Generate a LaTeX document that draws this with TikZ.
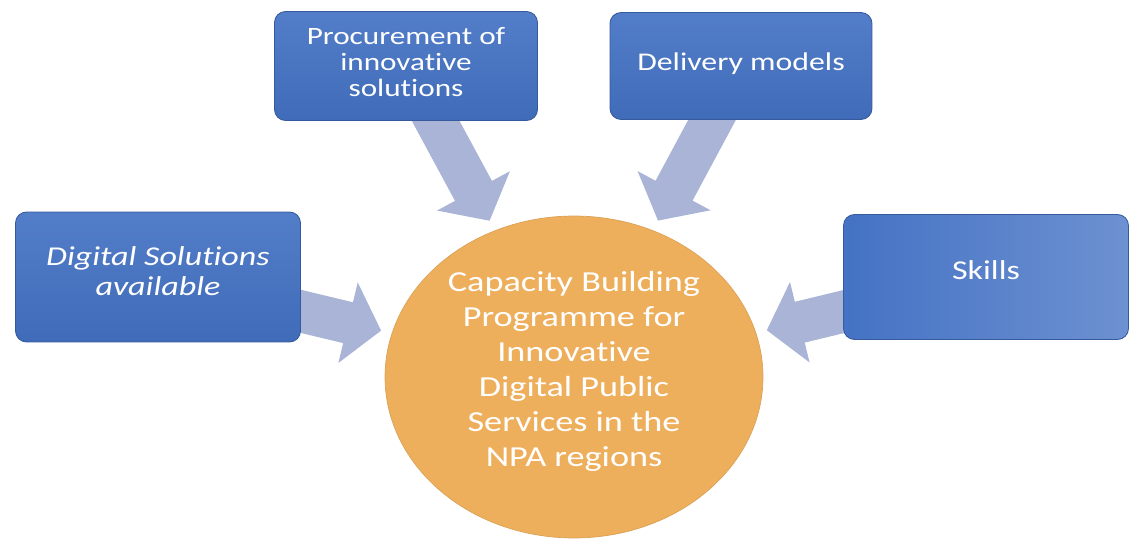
\documentclass[tikz,border=0pt]{standalone}
\usepackage{fontspec}
\setmainfont{Carlito}[Ligatures=NoCommon, FakeStretch=1.25]
\usetikzlibrary{shapes.geometric,arrows.meta,backgrounds}

\definecolor{boxblue}{HTML}{4472C4}
\definecolor{arrowgrey}{HTML}{AAB4D6}
\definecolor{caporange}{HTML}{EEAF5D}

\tikzset{
    bluebox/.style={draw=boxblue!80!black, line width=0.5pt, rounded corners=0.22cm,
        top color=boxblue!92!white, bottom color=boxblue!94!black,
        text=white, align=center},
    flow/.style={draw=arrowgrey, line width=0.84cm, shorten >=0.22cm,
        -{Triangle[length=0.68cm, width=1.62cm]}}
}

\begin{document}
\begin{tikzpicture}[x=0.02cm, y=-0.02cm]
    \useasboundingbox (0,0) rectangle (1131,544);

    %% ** the four topics
    \node[bluebox, minimum width=5.7cm, minimum height=2.6cm, text depth=0.24cm, font=\fontsize{15.5}{17.5}\selectfont\itshape](ds) at (158,277){Digital Solutions\\available};
    \node[bluebox, minimum width=5.26cm, minimum height=2.18cm, text depth=0.16cm, font=\fontsize{14.2}{15}\selectfont](proc) at (406,66){Procurement of\\innovative\\solutions};
    \node[bluebox, minimum width=5.24cm, minimum height=2.14cm, text depth=0.16cm, font=\fontsize{14.5}{15}\selectfont](deliv) at (741,66){Delivery models};
    \node[bluebox, minimum width=5.7cm, minimum height=2.5cm, text depth=0.28cm, font=\fontsize{15.5}{15}\selectfont,
        left color=boxblue, right color=boxblue!78!white](skills) at (986,277){Skills};

    %% ** centre
    \node[ellipse, draw=caporange!92!black, line width=0.4pt, fill=caporange, minimum width=7.56cm, minimum height=6.44cm,
        text=white, align=center, text depth=0.32cm, font=\fontsize{16.5}{20}\selectfont](cbp) at (574,377)
        {Capacity Building\\Programme for\\Innovative\\Digital Public\\Services in the\\NPA regions};

    %% ** arrows behind the boxes
    \begin{scope}[on background layer]
    \draw[flow] (ds.center) -- (cbp);
    \draw[flow] (proc.center) -- (cbp);
    \draw[flow] (deliv.center) -- (cbp);
    \draw[flow] (skills.center) -- (cbp);
    \end{scope}
\end{tikzpicture}
\end{document}
